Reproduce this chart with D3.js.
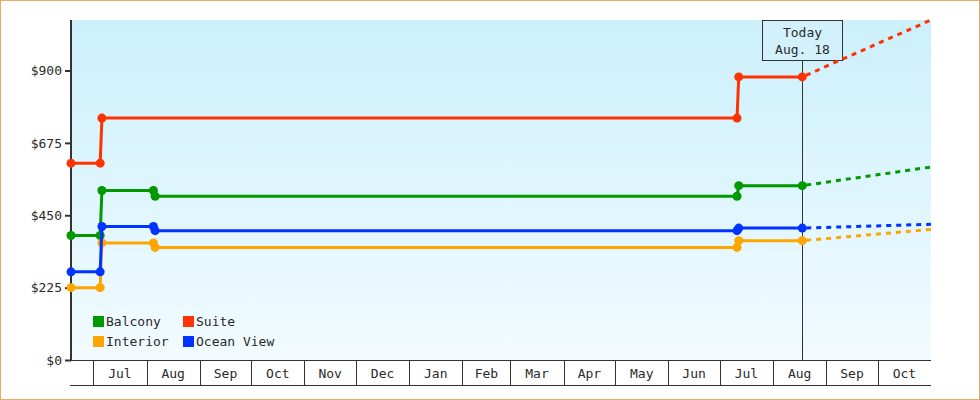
<!DOCTYPE html>
<html>
<head>
<meta charset="utf-8">
<script src="https://cdn.jsdelivr.net/npm/d3@7"></script>
<style>
  body { margin: 0; background: #fff; }
  text { font-family: "DejaVu Sans Mono", monospace; font-size: 13px; fill: #2a2a2a; }
</style>
</head>
<body>
<div class="canvas"></div>
<script>
// data
const dates = ['2013-06-18', '2013-07-05', '2013-07-06', '2013-08-05', '2013-08-06', '2014-07-11', '2014-07-12', '2014-08-18'];
const balcony = [387, 387, 527, 527, 509, 509, 542, 542];
const suite = [612, 612, 752, null, null, 752, 880, 880];
const interior = [225, 225, 364, 364, 350, 350, 371, 371];
const oceanView = [274, 274, 415, 415, 402, 402, 410, 410];

// projected values at the end of the range
const projectionDate = '2014-11-01';
const projBalcony = 600;
const projSuite = 1057;
const projInterior = 406;
const projOceanView = 422;

const seriesNames = ['Balcony', 'Suite', 'Interior', 'Ocean View'];
const seriesColors = ['#009900', '#ff3300', '#ffa500', '#0033ff'];
const yTicks = [0, 225, 450, 675, 900];
const todayLabel = ['Today', 'Aug. 18'];

const parse = d3.utcParse('%Y-%m-%d');

const series = [
  {name: seriesNames[0], values: balcony, proj: projBalcony},
  {name: seriesNames[1], values: suite, proj: projSuite},
  {name: seriesNames[2], values: interior, proj: projInterior},
  {name: seriesNames[3], values: oceanView, proj: projOceanView}
].map((s, i) => ({
  ...s,
  color: seriesColors[i],
  points: s.values.map((v, j) => ({date: parse(dates[j]), value: v})).filter(p => p.value !== null)
}));

const dims = {left: 71, right: 931, top: 20, bottom: 360};

const svg = d3.select('.canvas')
.append('svg')
.attr('width', 980)
.attr('height', 400);

// outer border
svg.append('rect')
.attr('x', 0.5).attr('y', 0.5)
.attr('width', 979).attr('height', 399)
.attr('fill', '#fff')
.attr('stroke', '#e8aa66');

// background gradient
const grad = svg.append('defs').append('linearGradient')
.attr('id', 'bg')
.attr('x1', 0).attr('y1', 0).attr('x2', 0).attr('y2', 1);
grad.append('stop').attr('offset', '0%').attr('stop-color', '#ccf0fc');
grad.append('stop').attr('offset', '100%').attr('stop-color', '#f2fbff');

svg.append('rect')
.attr('x', dims.left).attr('y', dims.top)
.attr('width', dims.right - dims.left)
.attr('height', dims.bottom - dims.top)
.attr('fill', 'url(#bg)');

// scales
const start = parse(dates[0]);
const end = parse(projectionDate);
const today = parse(dates[dates.length - 1]);

const x = d3.scaleUtc()
.domain([start, end])
.range([dims.left, dims.right]);

const yMax = d3.max(series, s => Math.max(s.proj, d3.max(s.points, p => p.value)));
const y = d3.scaleLinear()
.domain([0, yMax])
.range([dims.bottom, dims.top]);

// y axis
const yAxis = svg.append('g')
.attr('transform', `translate(${dims.left}, 0)`)
.call(d3.axisLeft(y).tickValues(yTicks).tickFormat(d => '$' + d).tickSize(6).tickPadding(3));
yAxis.select('.domain').remove();
yAxis.selectAll('.tick line').attr('stroke', '#333').attr('stroke-width', 2);
yAxis.selectAll('.tick text').attr('fill', '#2a2a2a').style('font-size', '13px');

svg.append('line')
.attr('x1', dims.left).attr('x2', dims.left)
.attr('y1', dims.top).attr('y2', dims.bottom + 1)
.attr('stroke', '#333')
.attr('stroke-width', 2);

// x axis band with month cells
const band = 25;
const months = d3.utcMonth.range(d3.utcMonth.ceil(start), end);

svg.append('line')
.attr('x1', dims.left - 1).attr('x2', dims.right)
.attr('y1', dims.bottom + 0.5).attr('y2', dims.bottom + 0.5)
.attr('stroke', '#333');

svg.append('line')
.attr('x1', dims.left - 1).attr('x2', dims.right)
.attr('y1', dims.bottom + band + 0.5).attr('y2', dims.bottom + band + 0.5)
.attr('stroke', '#333');

svg.selectAll('.sep')
.data(months)
.enter()
.append('line')
.attr('class', 'sep')
.attr('x1', d => Math.round(x(d)) + 0.5)
.attr('x2', d => Math.round(x(d)) + 0.5)
.attr('y1', dims.bottom)
.attr('y2', dims.bottom + band)
.attr('stroke', '#333');

svg.selectAll('.month')
.data(months)
.enter()
.append('text')
.attr('class', 'month')
.attr('text-anchor', 'middle')
.attr('x', d => (x(d) + x(d3.min([d3.utcMonth.offset(d, 1), end]))) / 2)
.attr('y', dims.bottom + 18)
.text(d => d3.utcFormat('%b')(d));

// today marker
const tx = Math.round(x(today)) + 0.5;
svg.append('line')
.attr('x1', tx).attr('x2', tx)
.attr('y1', dims.top + 40).attr('y2', dims.bottom)
.attr('stroke', '#333');

svg.append('rect')
.attr('x', tx - 40).attr('y', dims.top + 0.5)
.attr('width', 80).attr('height', 40)
.attr('fill', '#d2f1fc')
.attr('stroke', '#333');

svg.selectAll('.today')
.data(todayLabel)
.enter()
.append('text')
.attr('class', 'today')
.attr('text-anchor', 'middle')
.attr('x', tx)
.attr('y', (d, i) => dims.top + 17 + i * 17)
.text(d => d);

// lines
const line = d3.line()
.x(d => x(d.date))
.y(d => y(d.value));

const graph = svg.append('g');

series.forEach(s => {
  const last = s.points[s.points.length - 1];

  // dashed projection from today to the end of the range
  graph.append('path')
  .attr('fill', 'none')
  .attr('stroke', s.color)
  .attr('stroke-width', 3)
  .attr('stroke-dasharray', '5,5')
  .attr('stroke-dashoffset', -4)
  .attr('d', line([last, {date: end, value: s.proj}]));

  graph.append('path')
  .attr('fill', 'none')
  .attr('stroke', s.color)
  .attr('stroke-width', 3)
  .attr('stroke-linejoin', 'round')
  .attr('d', line(s.points));

  graph.selectAll(null)
  .data(s.points)
  .enter()
  .append('circle')
  .attr('cx', d => x(d.date))
  .attr('cy', d => y(d.value))
  .attr('r', 4.5)
  .attr('fill', s.color);
});

// legend
const legend = svg.append('g')
.attr('transform', 'translate(93, 316)');

const items = legend.selectAll('.item')
.data(series)
.enter()
.append('g')
.attr('class', 'item')
.attr('transform', (d, i) => `translate(${(i % 2) * 90}, ${Math.floor(i / 2) * 20})`);

items.append('rect')
.attr('width', 11)
.attr('height', 11)
.attr('fill', d => d.color);

items.append('text')
.attr('x', 13)
.attr('y', 10)
.text(d => d.name);
</script>
</body>
</html>
